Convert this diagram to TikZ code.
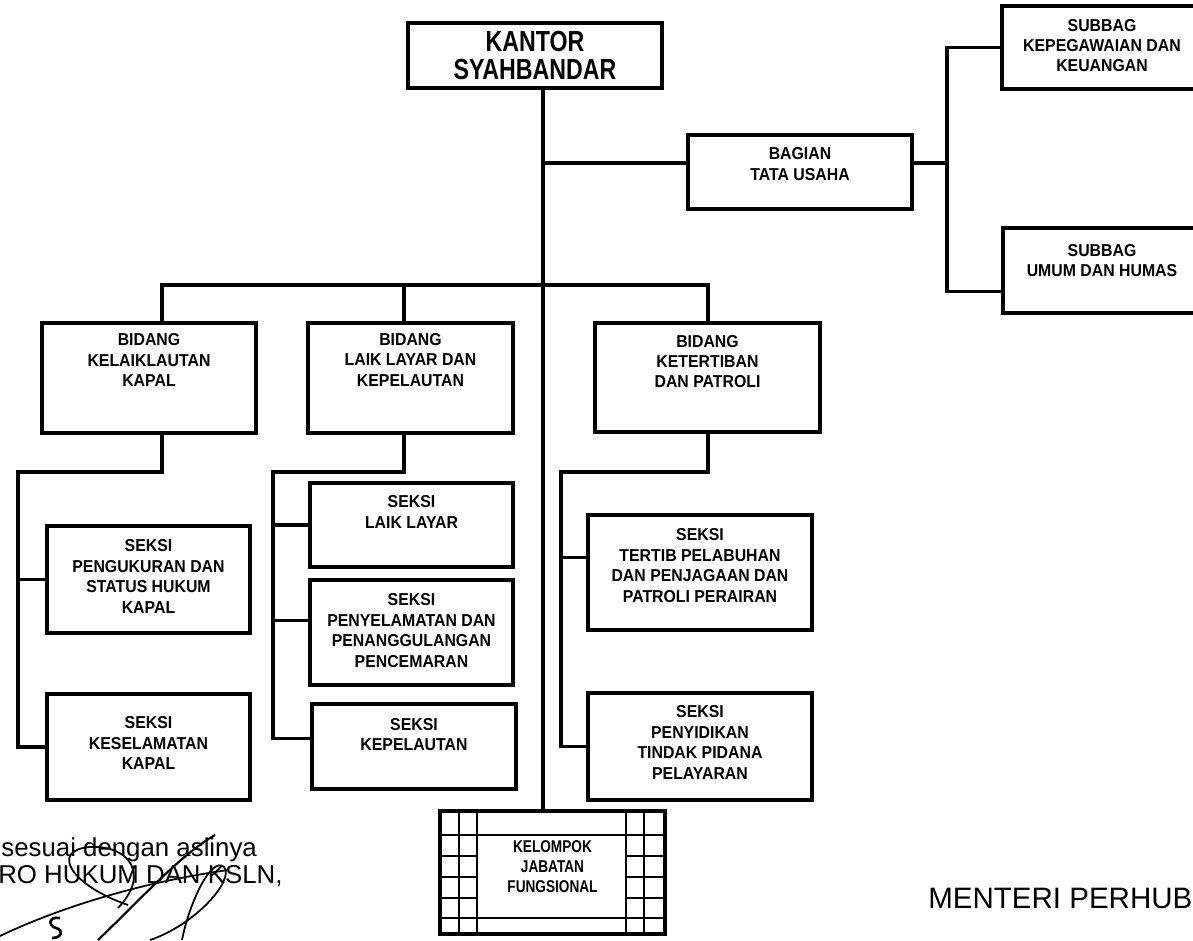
\documentclass[tikz,border=0pt]{standalone}
\usepackage{fontspec}
\setmainfont{Liberation Sans}
\newfontfamily\titlefont[FakeStretch=0.8]{Liberation Sans}
\newfontfamily\unitfont[FakeStretch=0.92]{Liberation Sans}
\newdimen\dpx \dpx=0.02cm
\newcommand{\unittext}[4]{\parbox[c][#2\dpx][c]{#1\dpx}{\centering #4\par\vspace{#3\dpx}}}

\begin{document}
\begin{tikzpicture}[x=0.02cm,y=-0.02cm]
\tikzset{unit/.style={draw,line width=1.9pt,inner sep=0pt,font=\unitfont\bfseries\fontsize{9.8pt}{11.6pt}\selectfont}}
\tikzset{link/.style={line width=1.9pt}}
\tikzset{cell/.style={line width=1.3pt}}
\tikzset{sign/.style={inner sep=0pt,font=\fontsize{14.7pt}{17pt}\selectfont}}

\useasboundingbox (0,0) rectangle (1193,940);
\clip (0,0) rectangle (1193,940);

\node[unit,font=\titlefont\bfseries\fontsize{16.5pt}{16pt}\selectfont] (kantor) at (535,55.5) {\unittext{254}{65}{0}{KANTOR\\SYAHBANDAR}};
\node[unit] (bagian) at (800,172) {\unittext{224}{74}{16}{BAGIAN\\TATA USAHA}};
\node[unit] (kepeg) at (1102,47.5) {\unittext{200}{83}{4}{SUBBAG\\KEPEGAWAIAN DAN\\KEUANGAN}};
\node[unit] (umum) at (1102,270.5) {\unittext{198}{85}{20}{SUBBAG\\UMUM DAN HUMAS}};

\node[unit] (bidA) at (149,378) {\unittext{214}{110}{36}{BIDANG\\KELAIKLAUTAN\\KAPAL}};
\node[unit] (bidB) at (410.5,378) {\unittext{205}{110}{36}{BIDANG\\LAIK LAYAR DAN\\KEPELAUTAN}};
\node[unit] (bidC) at (707.5,377.5) {\unittext{225}{109}{32}{BIDANG\\KETERTIBAN\\DAN PATROLI}};

\node[unit] (skA1) at (148.5,579.5) {\unittext{203}{107}{6}{SEKSI\\PENGUKURAN DAN\\STATUS HUKUM\\KAPAL}};
\node[unit] (skA2) at (148.5,747) {\unittext{203}{106}{8}{SEKSI\\KESELAMATAN\\KAPAL}};
\node[unit] (skB1) at (411.5,525) {\unittext{203}{84}{26}{SEKSI\\LAIK LAYAR}};
\node[unit] (skB2) at (411.5,632.5) {\unittext{203}{105}{4}{SEKSI\\PENYELAMATAN DAN\\PENANGGULANGAN\\PENCEMARAN}};
\node[unit] (skB3) at (414,746.5) {\unittext{204}{85}{24}{SEKSI\\KEPELAUTAN}};
\node[unit] (skC1) at (700,572.5) {\unittext{224}{115}{14}{SEKSI\\TERTIB PELABUHAN\\DAN PENJAGAAN DAN\\PATROLI PERAIRAN}};
\node[unit] (skC2) at (700,746.5) {\unittext{224}{107}{8}{SEKSI\\PENYIDIKAN\\TINDAK PIDANA\\PELAYARAN}};

\node[unit,font=\titlefont\bfseries\fontsize{9.7pt}{11.4pt}\selectfont] (kelompok) at (552.5,872.5) {\unittext{225}{123}{11}{KELOMPOK\\JABATAN\\FUNGSIONAL}};
\foreach \gx in {459,477,626,644} \draw[cell] (\gx,811) -- (\gx,934);
\foreach \gy in {835,918} \draw[cell] (440,\gy) -- (665,\gy);
\foreach \gy in {856,877,898} {
  \draw[cell] (440,\gy) -- (477,\gy);
  \draw[cell] (626,\gy) -- (665,\gy);
}

\coordinate (spine) at (543,0);
\coordinate (railR) at (947,0);
\coordinate (colA) at (162,0);
\coordinate (colB) at (404,0);
\coordinate (colC) at (708,0);
\coordinate (railA) at (18,0);
\coordinate (railB) at (273,0);
\coordinate (railC) at (561,0);
\coordinate (bus) at (0,285);
\coordinate (sub) at (0,472);
\coordinate (tuin) at ([yshift=9\dpx]bagian.west);
\coordinate (tuout) at ([yshift=9\dpx]bagian.east);
\coordinate (umumin) at ([yshift=-21\dpx]umum.west);
\coordinate (b2in) at ([yshift=12\dpx]skB2.west);
\coordinate (b3in) at ([yshift=8\dpx]skB3.west);
\coordinate (c1in) at ([yshift=15\dpx]skC1.west);

\draw[link] (spine |- kantor.south) -- (spine |- kelompok.north);
\draw[link] (spine |- tuin) -- (tuin);
\draw[link] (tuout) -- (railR |- tuout);
\draw[link] (kepeg.west) -| (railR |- umumin) -- (umumin);

\draw[link] (colA |- bidA.north) |- (colC |- bus) -- (colC |- bidC.north);
\draw[link] (colB |- bus) -- (colB |- bidB.north);

\draw[link] (colA |- bidA.south) |- (railA |- sub) |- (skA2.west);
\draw[link] (railA |- skA1.west) -- (skA1.west);
\draw[link] (colB |- bidB.south) |- (railB |- sub) |- (b3in);
\draw[link] (railB |- skB1.west) -- (skB1.west);
\draw[link] (railB |- b2in) -- (b2in);
\draw[link] (colC |- bidC.south) |- (railC |- sub) |- (skC2.west);
\draw[link] (railC |- c1in) -- (c1in);

\node[sign,anchor=base west] (salinan) at (1,856) {sesuai dengan aslinya};
\node[sign,anchor=base west] (biro) at (-2,883) {RO HUKUM DAN KSLN,};
\node[sign,anchor=base west,font=\fontsize{16.8pt}{19pt}\selectfont] (menteri) at (928,908) {MENTERI PERHUB};

\draw[line width=1pt] (0,936) .. controls (50,912) and (130,884) .. (228,870);
\draw[line width=1pt] (128,905) .. controls (70,885) and (50,850) .. (90,847) .. controls (130,845) and (150,875) .. (118,908);
\draw[line width=1.2pt] (98,940) .. controls (140,900) and (180,855) .. (215,835);
\draw[line width=1pt] (150,940) .. controls (195,925) and (235,880) .. (224,867) .. controls (212,856) and (190,900) .. (182,940);
\draw[line width=1.5pt] (60,918) .. controls (48,916) and (48,926) .. (56,928) .. controls (64,930) and (62,938) .. (52,938);

\end{tikzpicture}
\end{document}
